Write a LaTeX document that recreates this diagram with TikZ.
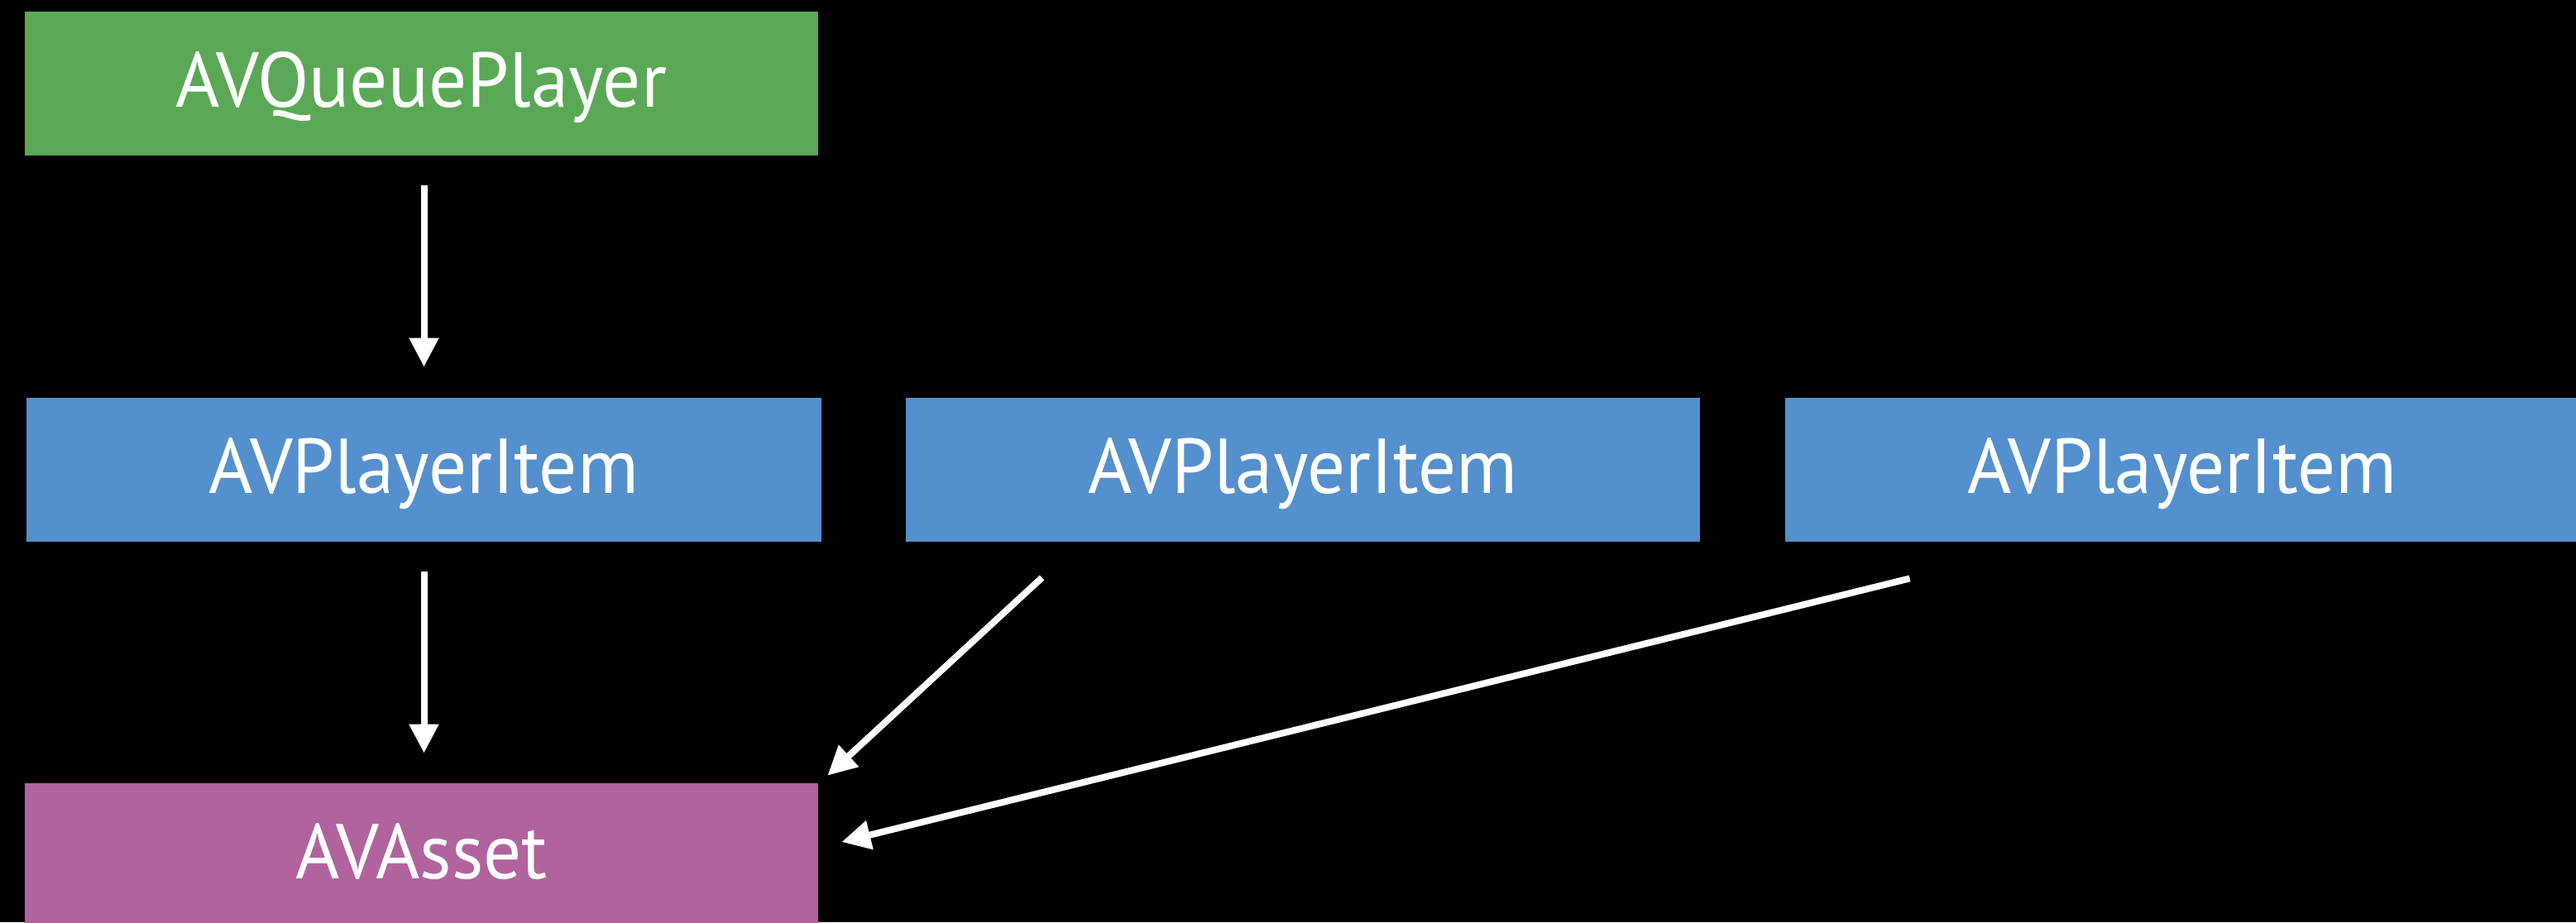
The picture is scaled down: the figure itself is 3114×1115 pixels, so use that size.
\documentclass[tikz,border=0pt]{standalone}
\usepackage{fontspec}
\setmainfont{PT Sans}[FakeStretch=0.97]
\usetikzlibrary{arrows.meta,calc}
\definecolor{qpgreen}{HTML}{5AA856}
\definecolor{itemblue}{HTML}{5490CD}
\definecolor{assetpurple}{HTML}{B1639D}
\tikzset{
  box/.style={rectangle, inner sep=0pt, minimum height=87pt, text=white,
    font=\fontsize{47}{50}\selectfont, text height=33pt, text depth=5pt},
  arr/.style={draw=white, line width=4pt,
    -{Triangle[length=17.5pt,width=17pt]}}
}
\begin{document}
\begin{tikzpicture}[x=0.5pt,y=-0.5pt]
  \fill[black] (0,0) rectangle (3114,1115);
  \useasboundingbox (0,0) rectangle (3114,1115);
  \begin{scope}
    \clip (0,0) rectangle (3114,1115);
    \node[box, fill=qpgreen, minimum width=479.5pt] (qp) at (509.5,101) {AVQueuePlayer};
    \node[box, fill=itemblue, minimum width=480.5pt] (i1) at (512.5,568) {AVPlayerItem};
    \node[box, fill=itemblue, minimum width=480pt] (i2) at (1575,568) {AVPlayerItem};
    \node[box, fill=itemblue, minimum width=480pt] (i3) at (2638,568) {AVPlayerItem};
    \node[box, fill=assetpurple, minimum width=479.5pt] (asset) at (509.5,1034) {AVAsset};
  \end{scope}
  % arrow end points
  \coordinate (a1s) at ($(qp.south -| i1.north)+(0,36)$);
  \coordinate (a1e) at ($(i1.north)+(0,-37)$);
  \coordinate (a2s) at ($(i1.south)+(0,36)$);
  \coordinate (a2e) at ($(asset.north -| i1.south)+(0,-36)$);
  \coordinate (a3s) at ($(i2.south west)+(165,43)$);
  \coordinate (a3e) at ($(asset.north east)+(11,-9)$);
  \coordinate (a4s) at ($(i3.south west)+(151,44)$);
  \coordinate (a4e) at ($(asset.east)+(28,-16)$);
  \draw[arr] (a1s) -- (a1e);
  \draw[arr] (a2s) -- (a2e);
  \draw[arr] (a3s) -- (a3e);
  \draw[arr] (a4s) -- (a4e);
\end{tikzpicture}
\end{document}
